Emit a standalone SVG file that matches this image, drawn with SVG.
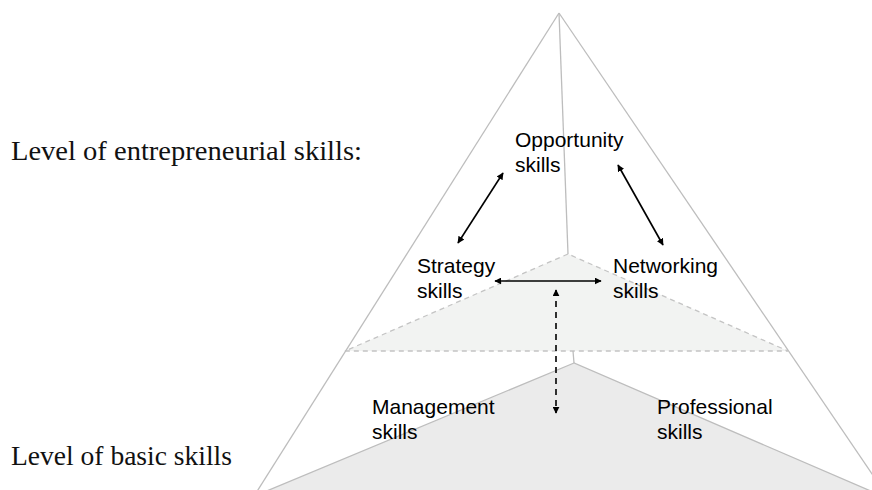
<svg xmlns="http://www.w3.org/2000/svg" width="872" height="490" viewBox="0 0 872 490">
<defs>
<style>
.edge{fill:none;stroke:#bdbdbd;stroke-width:1.3}
.plane{stroke:#c4c4c4;stroke-width:1.3;stroke-dasharray:5 4}
.lbl{font-family:"Liberation Sans",Arial,sans-serif;font-size:21px;fill:#000}
.lvl{font-family:"Liberation Serif","Times New Roman",serif;font-size:28px;fill:#111}
.arr{stroke:#000;stroke-width:1.6;fill:none;marker-start:url(#ah);marker-end:url(#ah)}
.dash{stroke-dasharray:6 5}
</style>
<marker id="ah" viewBox="0 0 10 10" refX="9" refY="5" markerWidth="7" markerHeight="7" orient="auto-start-reverse" markerUnits="userSpaceOnUse">
<path d="M0,0 L10,5 L0,10 z" fill="#000"/>
</marker>
</defs>
<rect width="872" height="490" fill="#fff"/>
<g id="pyramid">
<polygon points="574,363 257,495 880,495" fill="#ebebeb" stroke="#bdbdbd" stroke-width="1.3"/>
<polygon class="plane" points="568,254 345,351 788,351" fill="#f2f3f2"/>
<line class="edge" x1="559" y1="13" x2="568" y2="254"/>
<line class="edge" x1="573" y1="351" x2="574" y2="363"/>
<line class="edge" x1="559" y1="13" x2="256" y2="493"/>
<line class="edge" x1="559" y1="13" x2="883" y2="490"/>
</g>
<g id="levels">
<text class="lvl" x="11" y="160" textLength="351" lengthAdjust="spacingAndGlyphs">Level of entrepreneurial skills:</text>
<text class="lvl" x="11" y="465" textLength="221" lengthAdjust="spacingAndGlyphs">Level of basic skills</text>
</g>
<g id="opportunity"><text class="lbl" x="515" y="147">Opportunity</text><text class="lbl" x="515" y="172">skills</text></g>
<g id="strategy"><text class="lbl" x="417" y="273">Strategy</text><text class="lbl" x="417" y="298">skills</text></g>
<g id="networking"><text class="lbl" x="613" y="273">Networking</text><text class="lbl" x="613" y="298">skills</text></g>
<g id="management"><text class="lbl" x="372" y="414">Management</text><text class="lbl" x="372" y="439">skills</text></g>
<g id="professional"><text class="lbl" x="657" y="414">Professional</text><text class="lbl" x="657" y="439">skills</text></g>
<g id="connectors">
<line class="arr" x1="503" y1="173" x2="458" y2="243"/>
<line class="arr" x1="618" y1="165" x2="663" y2="245"/>
<line class="arr" x1="495" y1="281" x2="601" y2="281"/>
<line class="arr dash" x1="556" y1="290" x2="556" y2="413"/>
</g>
</svg>
